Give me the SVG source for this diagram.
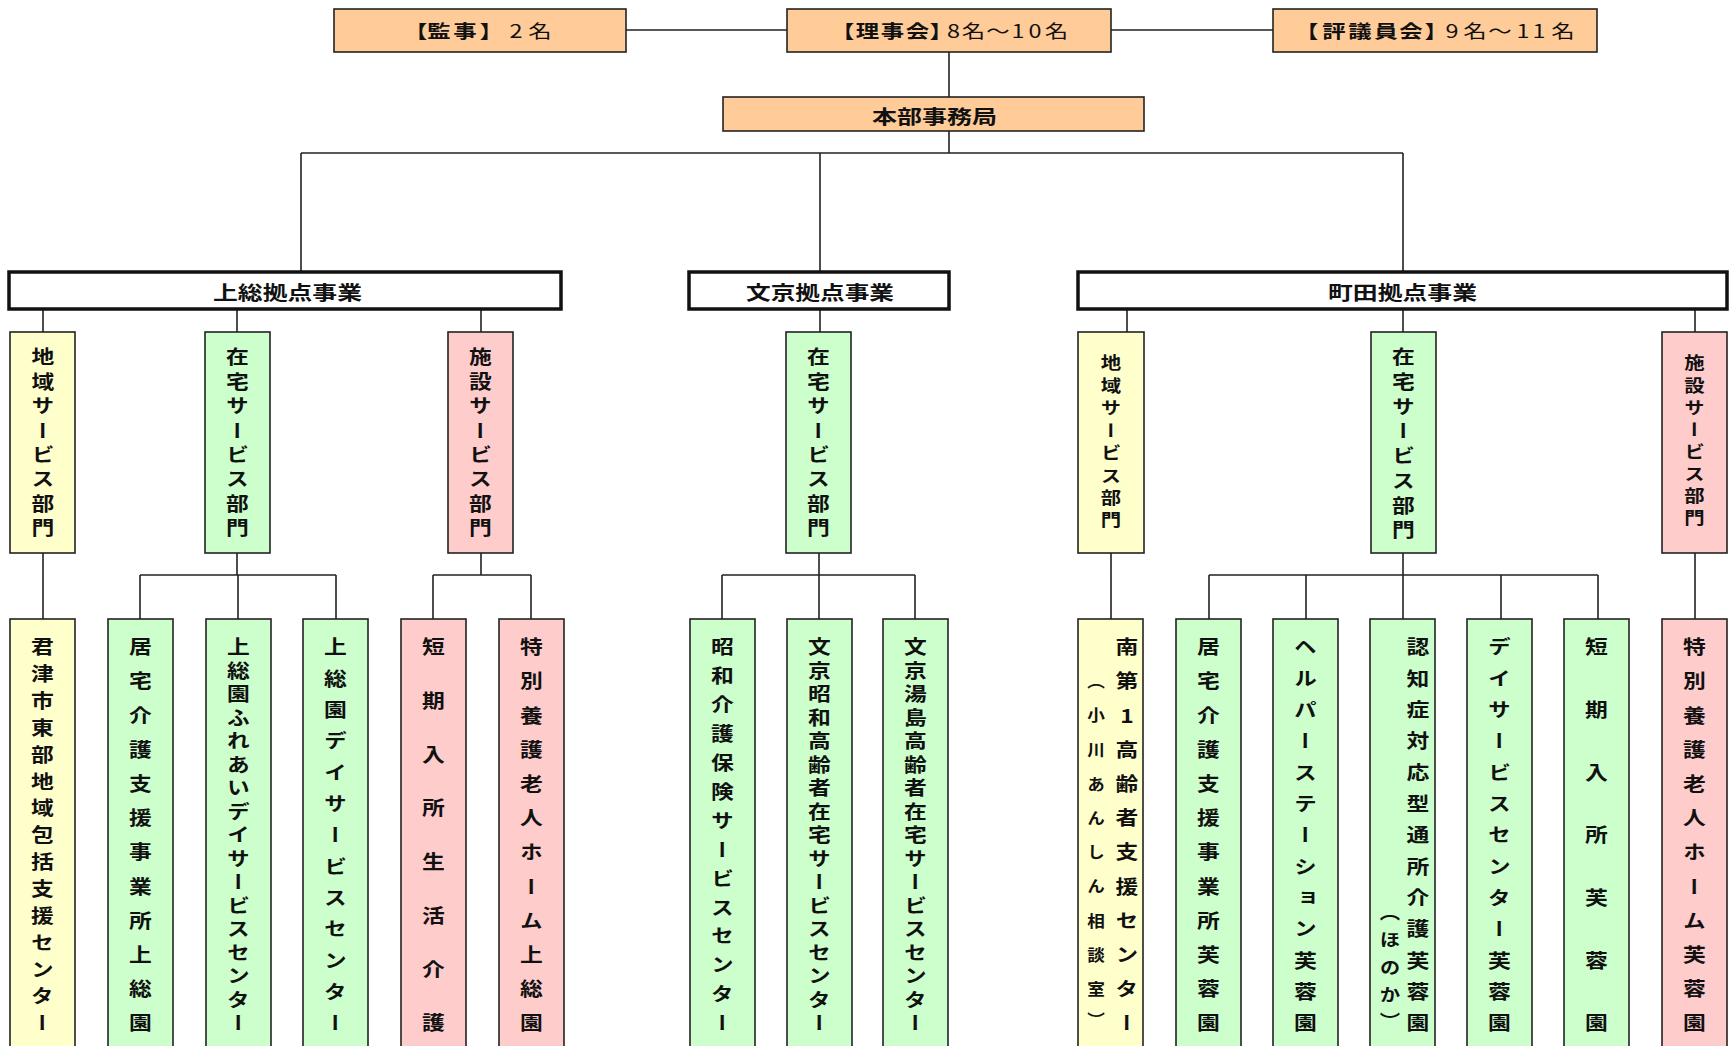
<svg xmlns="http://www.w3.org/2000/svg" width="1731" height="1046" viewBox="0 0 1731 1046">
<style>
.t{font-family:"Noto Sans CJK JP","Noto Sans CJK SC",sans-serif;font-weight:700;fill:#111}
.h{dominant-baseline:central}
.top{font-size:18px;text-anchor:middle;font-feature-settings:"palt"}
.mid{font-size:19px}
.n{font-weight:400}
.v{writing-mode:vertical-rl;text-orientation:upright;text-anchor:middle;font-size:19px}
.vs{font-size:17px}
.vp{font-size:16px}
.peach{fill:#FFCC99;stroke:#222;stroke-width:1.6}
.sec{fill:#fff;stroke:#111;stroke-width:3.5}
.yel{fill:#FFFFCC;stroke:#222;stroke-width:1.6}
.grn{fill:#CCFFCC;stroke:#222;stroke-width:1.6}
.pnk{fill:#FFCCCC;stroke:#222;stroke-width:1.6}
.c{fill:none;stroke:#222;stroke-width:1.6}
</style>
<rect width="1731" height="1046" fill="#fff"/>
<g id="connectors" class="c">
<path d="M626 30H787M1111 30H1273"/>
<path d="M949 52V97M949 131V153M301 153H1403M301 153V272M820 153V272M1403 153V272"/>
<path d="M43 309V332M237 309V332M481 309V332M820 309V332M1127 309V332M1403 309V332M1695 309V332"/>
<path d="M43 553V619M237 553V575M140 575H336M140 575V619M238 575V619M336 575V619"/>
<path d="M481 553V575M433 575H531M433 575V619M531 575V619"/>
<path d="M819 553V575M722 575H915M722 575V619M819 575V619M915 575V619"/>
<path d="M1111 553V619M1403 553V575M1209 575H1598M1209 575V619M1306 575V619M1403 575V619M1501 575V619M1598 575V619M1695 553V619"/>
</g>
<g id="kanji">
<rect class="peach" x="334" y="9" width="292" height="43"/>
<text class="t h top" transform="scale(1.3 1)" x="323.8 337.7 357.7 373.8 396.9 415.4" y="30.5">【監事】<tspan class="n">2名</tspan></text>
</g>
<g id="rijikai">
<rect class="peach" x="787" y="9" width="324" height="43"/>
<text class="t h top" transform="scale(1.3 1)" x="652.3 667.3 686.5 705.8 720 733.5 748.8 767.7 783.1 796.2 812.7" y="30.5">【理事会】<tspan class="n">8名～10名</tspan></text>
</g>
<g id="hyogiinkai">
<rect class="peach" x="1273" y="9" width="324" height="43"/>
<text class="t h top" transform="scale(1.3 1)" x="1009.2 1026.2 1046.2 1066.2 1085.4 1100.8 1116.9 1134.6 1153.8 1171.5 1183.8 1202.3" y="30.5">【評議員会】<tspan class="n">9名～11名</tspan></text>
</g>
<g id="honbu">
<rect class="peach" x="723" y="97" width="421" height="34"/>
<text class="t h mid" x="872" y="115" textLength="125" lengthAdjust="spacingAndGlyphs">本部事務局</text>
</g>
<g id="kazusa">
<rect class="sec" x="9" y="272" width="552" height="37"/>
<text class="t h mid" x="213" y="291" textLength="149" lengthAdjust="spacingAndGlyphs">上総拠点事業</text>
</g>
<g id="bunkyo">
<rect class="sec" x="689" y="272" width="260" height="37"/>
<text class="t h mid" x="746" y="291" textLength="148" lengthAdjust="spacingAndGlyphs">文京拠点事業</text>
</g>
<g id="machida">
<rect class="sec" x="1078" y="272" width="649" height="37"/>
<text class="t h mid" x="1328" y="291" textLength="149" lengthAdjust="spacingAndGlyphs">町田拠点事業</text>
</g>
<g id="k-chiiki">
<rect class="yel" x="10" y="332" width="65" height="221"/>
<text class="t v" transform="translate(43 0) scale(1.2 1)" y="357 381.4 405.9 430.3 454.7 479.1 503.6 528">地域サービス部門</text>
</g>
<g id="k-zaitaku">
<rect class="grn" x="205" y="332" width="65" height="221"/>
<text class="t v" transform="translate(237.5 0) scale(1.2 1)" y="357 381.4 405.9 430.3 454.7 479.1 503.6 528">在宅サービス部門</text>
</g>
<g id="k-shisetsu">
<rect class="pnk" x="448" y="332" width="65" height="221"/>
<text class="t v" transform="translate(480.5 0) scale(1.2 1)" y="357 381.4 405.9 430.3 454.7 479.1 503.6 528">施設サービス部門</text>
</g>
<g id="b-zaitaku">
<rect class="grn" x="786" y="332" width="65" height="221"/>
<text class="t v" transform="translate(818.5 0) scale(1.2 1)" y="357 381.4 405.9 430.3 454.7 479.1 503.6 528">在宅サービス部門</text>
</g>
<g id="m-chiiki">
<rect class="yel" x="1078" y="332" width="66" height="221"/>
<text class="t v vs" transform="translate(1111 0) scale(1.2 1)" y="363 385.4 407.9 430.3 452.7 475.1 497.6 520">地域サービス部門</text>
</g>
<g id="m-zaitaku">
<rect class="grn" x="1371" y="332" width="65" height="221"/>
<text class="t v" transform="translate(1403.5 0) scale(1.2 1)" y="357 381.7 406.4 431.1 455.9 480.6 505.3 530">在宅サービス部門</text>
</g>
<g id="m-shisetsu">
<rect class="pnk" x="1662" y="332" width="65" height="221"/>
<text class="t v vs" transform="translate(1694.5 0) scale(1.2 1)" y="363 385.1 407.3 429.4 451.6 473.7 495.9 518">施設サービス部門</text>
</g>
<g id="l-kimitsu">
<rect class="yel" x="10" y="619" width="65" height="440"/>
<text class="t v" transform="translate(42.5 0) scale(1.2 1)" y="647 673.9 700.7 727.6 754.4 781.3 808.1 835 861.9 888.7 915.6 942.4 969.3 996.1 1023">君津市東部地域包括支援センター</text>
</g>
<g id="l-kyotaku-k">
<rect class="grn" x="108" y="619" width="65" height="440"/>
<text class="t v" transform="translate(140.5 0) scale(1.2 1)" y="647 681.2 715.4 749.5 783.7 817.9 852.1 886.3 920.5 954.6 988.8 1023">居宅介護支援事業所上総園</text>
</g>
<g id="l-fureai">
<rect class="grn" x="206" y="619" width="65" height="440"/>
<text class="t v" transform="translate(238.5 0) scale(1.2 1)" y="647 670.5 694 717.5 741 764.5 788 811.5 835 858.5 882 905.5 929 952.5 976 999.5 1023">上総園ふれあいデイサービスセンター</text>
</g>
<g id="l-day-k">
<rect class="grn" x="303" y="619" width="65" height="440"/>
<text class="t v" transform="translate(335.5 0) scale(1.2 1)" y="647 678.3 709.7 741 772.3 803.7 835 866.3 897.7 929 960.3 991.7 1023">上総園デイサービスセンター</text>
</g>
<g id="l-tanki-k">
<rect class="pnk" x="401" y="619" width="65" height="440"/>
<text class="t v" transform="translate(433.5 0) scale(1.2 1)" y="647 700.7 754.4 808.1 861.9 915.6 969.3 1023">短期入所生活介護</text>
</g>
<g id="l-tokuyo-k">
<rect class="pnk" x="499" y="619" width="65" height="440"/>
<text class="t v" transform="translate(531.5 0) scale(1.2 1)" y="647 681.2 715.4 749.5 783.7 817.9 852.1 886.3 920.5 954.6 988.8 1023">特別養護老人ホーム上総園</text>
</g>
<g id="l-showa">
<rect class="grn" x="690" y="619" width="65" height="440"/>
<text class="t v" transform="translate(722.5 0) scale(1.2 1)" y="647 675.9 704.8 733.8 762.7 791.6 820.5 849.5 878.4 907.3 936.2 965.2 994.1 1023">昭和介護保険サービスセンター</text>
</g>
<g id="l-bunkyo-showa">
<rect class="grn" x="787" y="619" width="65" height="440"/>
<text class="t v" transform="translate(819.5 0) scale(1.2 1)" y="647 670.5 694 717.5 741 764.5 788 811.5 835 858.5 882 905.5 929 952.5 976 999.5 1023">文京昭和高齢者在宅サービスセンター</text>
</g>
<g id="l-bunkyo-yushima">
<rect class="grn" x="883" y="619" width="65" height="440"/>
<text class="t v" transform="translate(915.5 0) scale(1.2 1)" y="647 670.5 694 717.5 741 764.5 788 811.5 835 858.5 882 905.5 929 952.5 976 999.5 1023">文京湯島高齢者在宅サービスセンター</text>
</g>
<g id="l-minami">
<rect class="yel" x="1078" y="619" width="65" height="440"/>
<text class="t v" transform="translate(1127 0) scale(1.2 1)" y="647 681.2 715.4 749.5 783.7 817.9 852.1 886.3 920.5 954.6 988.8 1023">南第1高齢者支援センター</text>
<text class="t v vp" transform="translate(1096 0) scale(1.1 1)" y="681.2 715.4 749.5 783.7 817.9 852.1 886.3 920.5 954.6 988.8 1020">（小川あんしん相談室）</text>
</g>
<g id="l-kyotaku-m">
<rect class="grn" x="1176" y="619" width="65" height="440"/>
<text class="t v" transform="translate(1208.5 0) scale(1.2 1)" y="647 681.2 715.4 749.5 783.7 817.9 852.1 886.3 920.5 954.6 988.8 1023">居宅介護支援事業所芙蓉園</text>
</g>
<g id="l-helper">
<rect class="grn" x="1273" y="619" width="65" height="440"/>
<text class="t v" transform="translate(1305.5 0) scale(1.2 1)" y="647 678.3 709.7 741 772.3 803.7 835 866.3 897.7 929 960.3 991.7 1023">ヘルパーステーション芙蓉園</text>
</g>
<g id="l-ninchi">
<rect class="grn" x="1370" y="619" width="65" height="440"/>
<text class="t v" transform="translate(1418 0) scale(1.2 1)" y="647 678.3 709.7 741 772.3 803.7 835 866.3 897.7 929 960.3 991.7 1023">認知症対応型通所介護芙蓉園</text>
<text class="t v vs" transform="translate(1390 0) scale(1.2 1)" y="913 940 968 995 1021">（ほのか）</text>
</g>
<g id="l-day-m">
<rect class="grn" x="1467" y="619" width="65" height="440"/>
<text class="t v" transform="translate(1499.5 0) scale(1.2 1)" y="647 678.3 709.7 741 772.3 803.7 835 866.3 897.7 929 960.3 991.7 1023">デイサービスセンター芙蓉園</text>
</g>
<g id="l-tanki-m">
<rect class="grn" x="1564" y="619" width="65" height="440"/>
<text class="t v" transform="translate(1596.5 0) scale(1.2 1)" y="647 709.7 772.3 835 897.7 960.3 1023">短期入所芙蓉園</text>
</g>
<g id="l-tokuyo-m">
<rect class="pnk" x="1662" y="619" width="65" height="440"/>
<text class="t v" transform="translate(1694.5 0) scale(1.2 1)" y="647 681.2 715.4 749.5 783.7 817.9 852.1 886.3 920.5 954.6 988.8 1023">特別養護老人ホーム芙蓉園</text>
</g>
</svg>
